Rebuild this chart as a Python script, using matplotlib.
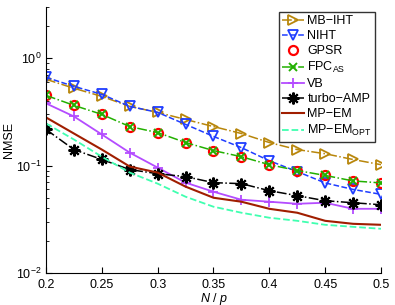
import numpy as np
import matplotlib.pyplot as plt

plt.rcParams['font.family'] = ['Liberation Sans', 'DejaVu Sans']
plt.rcParams['mathtext.fontset'] = 'custom'
plt.rcParams['mathtext.rm'] = 'Liberation Sans'
plt.rcParams['mathtext.it'] = 'Liberation Sans:italic'

# N/p grid
ratio = [0.2, 0.225, 0.25, 0.275, 0.3, 0.325, 0.35, 0.375, 0.4, 0.425, 0.45, 0.475, 0.5]

# NMSE values
mb_iht = [0.637, 0.525, 0.441, 0.356, 0.313, 0.269, 0.231, 0.199, 0.164, 0.141, 0.129, 0.114, 0.102]
niht = [0.664, 0.547, 0.461, 0.356, 0.313, 0.242, 0.187, 0.147, 0.111, 0.088, 0.069, 0.060, 0.054]
gpsr = [0.451, 0.364, 0.300, 0.231, 0.203, 0.164, 0.138, 0.121, 0.102, 0.090, 0.081, 0.072, 0.069]
fpc_as = [0.451, 0.364, 0.300, 0.231, 0.203, 0.164, 0.138, 0.121, 0.102, 0.090, 0.081, 0.072, 0.069]
vb = [0.380, 0.287, 0.195, 0.132, 0.0958, 0.0694, 0.0571, 0.0481, 0.0461, 0.0441, 0.0451, 0.0396, 0.0396]
turbo_amp = [0.217, 0.141, 0.114, 0.0918, 0.0841, 0.0789, 0.0694, 0.0679, 0.0584, 0.0525, 0.0471, 0.0451, 0.0432]
mp_em = [0.281, 0.199, 0.141, 0.098, 0.0861, 0.0637, 0.0502, 0.0461, 0.0396, 0.0364, 0.0306, 0.0287, 0.0281]
mp_em_opt = [0.247, 0.175, 0.121, 0.0861, 0.0679, 0.0513, 0.0414, 0.0364, 0.0327, 0.0306, 0.0281, 0.0269, 0.0258]

fig = plt.figure(figsize=(3.95, 3.05), dpi=100)
ax = fig.add_axes([0.1165, 0.105, 0.848, 0.872])

ax.semilogy(ratio, mb_iht, '-.', color='#b8860b', marker='>', mfc='none', ms=6.5, mew=1.3, lw=1.1, label='MB\u2212IHT')
ax.semilogy(ratio, niht, '--', color='#1f3dff', marker='v', mfc='none', ms=6.5, mew=1.3, lw=1.1, label='NIHT')
ax.semilogy(ratio, gpsr, 'o', color='red', mfc='none', ms=6.5, mew=1.6, ls='none', label='GPSR')
ax.semilogy(ratio, fpc_as, '-.', color='#22b000', marker='x', ms=5.5, mew=1.4, lw=1.1, label='FPC$_{\\mathrm{AS}}$')
ax.semilogy(ratio, vb, '-', color='#b44cff', marker='+', ms=7.5, mew=1.3, lw=1.3, label='VB')
ax.semilogy(ratio, turbo_amp, '-.', color='black', marker=(8, 2, 0), ms=8.5, mew=1.5, lw=1.1, label='turbo\u2212AMP')
ax.semilogy(ratio, mp_em, '-', color='#a01e00', lw=1.5, label='MP\u2212EM')
ax.semilogy(ratio, mp_em_opt, '--', color='#40ffb0', lw=1.3, label='MP\u2212EM$_{\\mathrm{OPT}}$')

ax.set_xlim(0.2, 0.5)
ax.set_ylim(1e-2, 3)
ax.set_xticks([0.2, 0.25, 0.3, 0.35, 0.4, 0.45, 0.5])
ax.set_xticklabels(['0.2', '0.25', '0.3', '0.35', '0.4', '0.45', '0.5'])
ax.spines['top'].set_visible(False)
ax.spines['right'].set_visible(False)
ax.tick_params(which='both', direction='in', labelsize=9)
ax.tick_params(axis='x', pad=4)
ax.tick_params(axis='y', pad=3)
ax.tick_params(which='major', length=4)
ax.tick_params(which='minor', length=2)
ax.set_xlabel('$N$ / $p$', fontsize=9, labelpad=0)
ax.set_ylabel('NMSE', fontsize=9, labelpad=1)

leg = ax.legend(loc='upper right', bbox_to_anchor=(0.99, 0.99), fontsize=9, handlelength=1.7,
                handletextpad=0.3, labelspacing=0.24, borderpad=0.25, borderaxespad=0.2,
                fancybox=False, edgecolor='#333333', framealpha=1)
leg.get_frame().set_linewidth(1.0)

fig.savefig('out.png', dpi=100)
